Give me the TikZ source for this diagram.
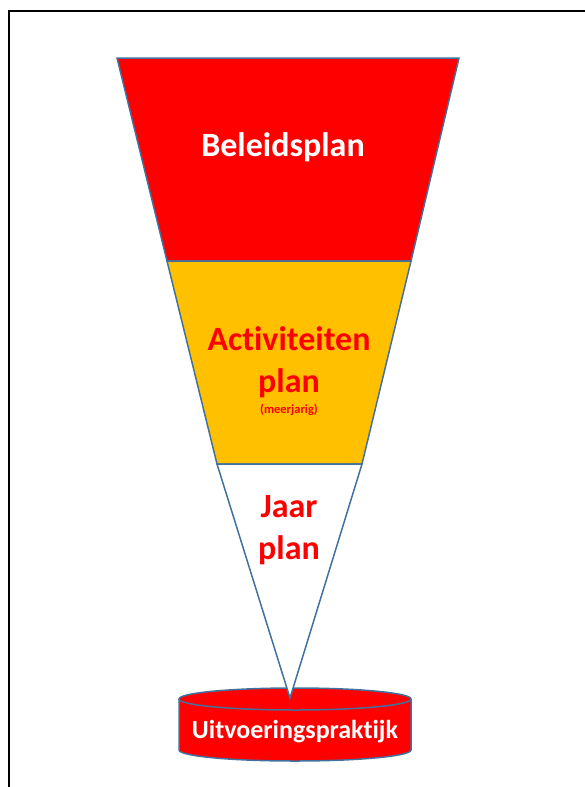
\documentclass[tikz,border=0pt]{standalone}
\usepackage{fontspec}
\setmainfont[Ligatures=NoCommon]{Carlito}
\usetikzlibrary{positioning}
\definecolor{PlanRed}{HTML}{FF0000}
\definecolor{PlanGold}{HTML}{FFC000}
\definecolor{Edge}{HTML}{41719C}

\begin{document}
\begin{tikzpicture}[x=1pt, y=-1pt,
  part/.style={draw=Edge, line width=1.5pt, line join=miter},
  big/.style={font=\fontsize{34}{42}\selectfont\bfseries, align=center, inner sep=0pt},
  small/.style={font=\fontsize{12.5}{14}\selectfont\bfseries, text=PlanRed, inner sep=0pt}
]
\useasboundingbox (0,0) rectangle (584,787);
\draw[line width=2.4pt] (9,790) -- (9,11) -- (590,11);

% funnel
\fill[part, fill=PlanRed] (117,58) -- (459,58) -- (411,261) -- (167,261) -- cycle;
\fill[part, fill=PlanGold] (167,261) -- (411,261) -- (362,464) -- (217,464) -- cycle;
\draw[part, fill=PlanRed] (179,699) -- (179,750) arc[start angle=180, end angle=0, x radius=116, y radius=11] -- (411,699);
\draw[part, fill=PlanRed] (295,699) ellipse[x radius=116, y radius=11];
\draw[part, fill=white] (217,464) -- (362,464) -- (290,698) -- cycle;

\node[big, text=white] (beleid) at (283,147) {Beleidsplan};
\node[big, text=PlanRed] (activ) at (289,362) {Activiteiten\\plan};
\node[small, below=6pt of activ] (meer) {(meerjarig)};
\node[big, text=PlanRed] (jaar) at (289,530) {Jaar\\plan};
\node[font=\fontsize{26}{30}\selectfont\bfseries, text=white] (uitv) at (295,732) {Uitvoeringspraktijk};
\end{tikzpicture}
\end{document}
